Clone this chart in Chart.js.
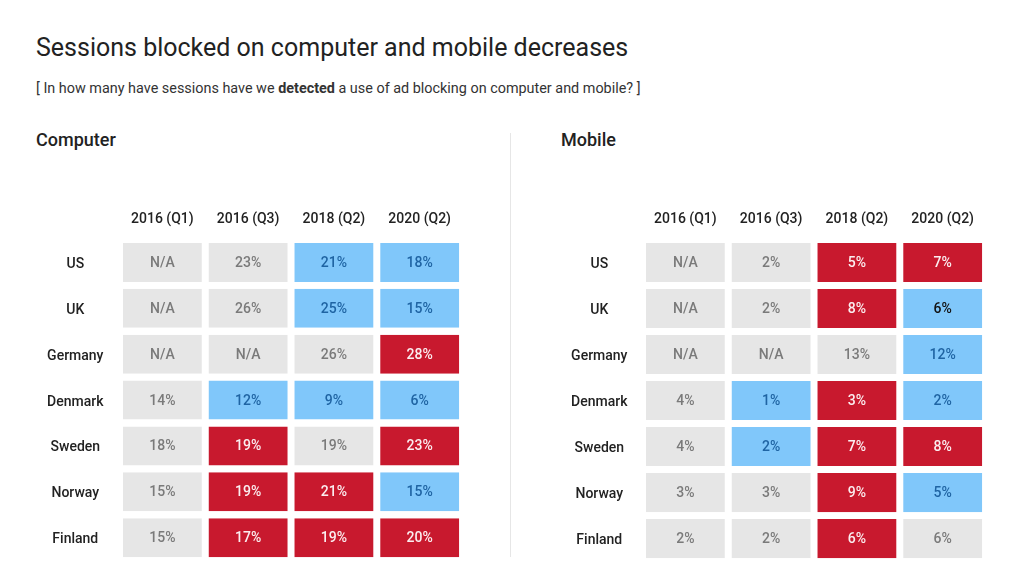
<!DOCTYPE html>
<html>
<head>
    <meta charset="utf-8"/>
    <title>Sessions blocked on computer and mobile decreases</title>
    <script src="https://cdn.jsdelivr.net/npm/chart.js"></script>
    <style>
        body { margin: 0; background: #fff; font-family: Roboto, sans-serif; color: #222; }
        .abs { position: absolute; white-space: nowrap; line-height: 1; }
        #title { left: 36px; top: 35px; font-size: 25px; color: #222; }
        #subtitle { left: 36px; top: 82px; font-size: 14.4px; color: #333; }
        .section { top: 131px; font-size: 18px; font-weight: 500; color: #222; }
        #divider { position: absolute; left: 510px; top: 133px; width: 1px; height: 424px; background: #e6e6e6; }
        canvas { position: absolute; }
    </style>
</head>
<body>
    <div id="title" class="abs">Sessions blocked on computer and mobile decreases</div>
    <div id="subtitle" class="abs">[ In how many have sessions have we <b>detected</b> a use of ad blocking on computer and mobile? ]</div>
    <div class="abs section" style="left:36px">Computer</div>
    <div class="abs section" style="left:561px">Mobile</div>
    <div id="divider"></div>

    <canvas id="computerChart" width="435" height="395" style="left:28px; top:190px"></canvas>
    <canvas id="mobileChart" width="434" height="395" style="left:552px; top:190px"></canvas>

    <script type="text/javascript">
      const countries = ['US', 'UK', 'Germany', 'Denmark', 'Sweden', 'Norway', 'Finland'];
      const periods = ['2016 (Q1)', '2016 (Q3)', '2018 (Q2)', '2020 (Q2)'];

      // share of sessions with ad blocking, rows = countries, cols = periods (null = N/A)
      const computerValues = [
        [null, 23, 21, 18],
        [null, 26, 25, 15],
        [null, null, 26, 28],
        [14, 12, 9, 6],
        [18, 19, 19, 23],
        [15, 19, 21, 15],
        [15, 17, 19, 20]
      ];
      // g = no change, b = lower, r = higher, k = lower (dark text)
      const computerStatus = [
        ['g', 'g', 'b', 'b'],
        ['g', 'g', 'b', 'b'],
        ['g', 'g', 'g', 'r'],
        ['g', 'b', 'b', 'b'],
        ['g', 'r', 'g', 'r'],
        ['g', 'r', 'r', 'b'],
        ['g', 'r', 'r', 'r']
      ];

      const mobileValues = [
        [null, 2, 5, 7],
        [null, 2, 8, 6],
        [null, null, 13, 12],
        [4, 1, 3, 2],
        [4, 2, 7, 8],
        [3, 3, 9, 5],
        [2, 2, 6, 6]
      ];
      const mobileStatus = [
        ['g', 'g', 'r', 'r'],
        ['g', 'g', 'r', 'k'],
        ['g', 'g', 'g', 'b'],
        ['g', 'b', 'r', 'b'],
        ['g', 'b', 'r', 'r'],
        ['g', 'g', 'r', 'b'],
        ['g', 'g', 'r', 'g']
      ];

      const fillColors = { g: '#e6e6e6', b: '#80c7fa', k: '#80c7fa', r: '#c8192e' };
      const textColors = { g: '#7a7a7a', b: '#1f64a3', k: '#111111', r: '#fbeef0' };

      Chart.defaults.font.family = 'Roboto, sans-serif';

      // writes the value in the middle of each cell
      const cellText = {
        id: 'cellText',
        afterDatasetsDraw(chart, args, opts) {
          const ctx = chart.ctx;
          ctx.save();
          ctx.font = '500 14px Roboto, sans-serif';
          ctx.textAlign = 'center';
          ctx.textBaseline = 'middle';
          chart.data.datasets.forEach((ds, col) => {
            chart.getDatasetMeta(col).data.forEach((bar, row) => {
              const v = opts.values[row][col];
              const p = bar.getCenterPoint();
              ctx.fillStyle = textColors[opts.status[row][col]];
              ctx.fillText(v === null ? 'N/A' : v + '%', p.x, p.y + 1);
            });
          });
          ctx.restore();
        }
      };

      function makeTable(id, values, status, labelWidth, labelPad) {
        const datasets = periods.map((p, col) => ({
          label: p,
          data: countries.map(() => 1),
          backgroundColor: countries.map((c, row) => fillColors[status[row][col]]),
          borderColor: '#ffffff',
          borderWidth: { left: 3.5, right: 3.5, top: 0, bottom: 0 },
          borderSkipped: false,
          barPercentage: 0.85,
          categoryPercentage: 1
        }));

        return new Chart(document.getElementById(id), {
          type: 'bar',
          data: { labels: countries, datasets: datasets },
          plugins: [cellText],
          options: {
            indexAxis: 'y',
            responsive: false,
            animation: false,
            layout: { padding: 0 },
            plugins: {
              legend: { display: false },
              tooltip: { enabled: false },
              cellText: { values: values, status: status }
            },
            scales: {
              x: { stacked: true, min: 0, max: periods.length, display: false },
              y: {
                stacked: true,
                grid: { display: false, drawTicks: false },
                border: { display: false },
                ticks: {
                  crossAlign: 'center',
                  padding: labelPad,
                  labelOffset: 2,
                  color: '#222',
                  font: { size: 14, weight: '500' }
                },
                afterFit: s => { s.width = labelWidth; }
              },
              periods: {
                type: 'category',
                labels: periods,
                position: 'top',
                offset: true,
                grid: { display: false, drawTicks: false },
                border: { display: false },
                ticks: {
                  padding: 12,
                  color: '#222',
                  font: { size: 14, weight: '500' }
                },
                afterFit: s => { s.height = 49.5; }
              }
            }
          }
        });
      }

      makeTable('computerChart', computerValues, computerStatus, 91.5, 16);
      makeTable('mobileChart', mobileValues, mobileStatus, 90.5, 15);
    </script>
</body>
</html>
